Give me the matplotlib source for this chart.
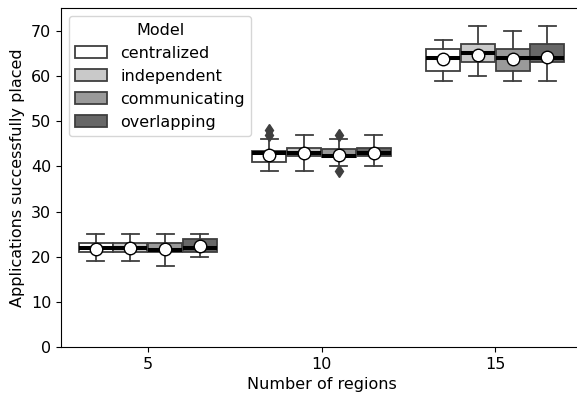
import numpy as np
import matplotlib
matplotlib.use("Agg")
import matplotlib.pyplot as plt
from matplotlib.patches import Patch

# data (one row per model, one column per region count)
regions = ["5", "10", "15"]
models = ["centralized", "independent", "communicating", "overlapping"]
colors = ["#ffffff", "#c9c9c9", "#9a9a9a", "#676767"]

whislo = [[19, 39, 59], [19, 39, 60], [18, 40, 59], [20, 40, 59]]
q1 = [[21, 41, 61.2], [21, 42.2, 63], [21, 42, 61], [21, 42.3, 63]]
med = [[22, 43, 64], [22, 43, 65], [21.5, 42.2, 64], [22, 43, 64]]
q3 = [[23, 43.3, 66], [23, 44, 67], [23, 43.8, 66], [24, 44, 67]]
whishi = [[25, 46, 68], [25, 47, 71], [25, 46, 70], [25, 47, 71]]
means = [[21.7, 42.6, 63.7], [21.9, 42.9, 64.7], [21.8, 42.6, 63.8], [22.3, 43.0, 64.3]]
fliers = [[[], [47, 48], []], [[], [], []], [[], [47, 39], []], [[], [], []]]

plt.rcParams["font.size"] = 11.5

fig = plt.figure(figsize=(5.77, 3.99), dpi=100)
ax = fig.add_axes([0.1057, 0.1303, 0.903, 0.849])

line_col = "#3f3f3f"
lw = 1.3
nm = len(models)
width = 0.8 / nm
for i, m in enumerate(models):
    stats = []
    for j in range(len(regions)):
        stats.append(dict(whislo=whislo[i][j], q1=q1[i][j], med=med[i][j],
                          q3=q3[i][j], whishi=whishi[i][j], mean=means[i][j],
                          fliers=fliers[i][j]))
    pos = np.arange(len(regions)) - 0.4 + width * (i + 0.5)
    ax.bxp(stats, positions=pos, widths=width * 0.98, patch_artist=True,
           showmeans=True, manage_ticks=False,
           boxprops=dict(facecolor=colors[i], edgecolor=line_col, linewidth=lw),
           whiskerprops=dict(color=line_col, linewidth=lw),
           capprops=dict(color=line_col, linewidth=lw),
           medianprops=dict(color="black", linewidth=2.9),
           meanprops=dict(marker="o", markerfacecolor="white",
                          markeredgecolor="black", markersize=9),
           flierprops=dict(marker="d", markerfacecolor=line_col,
                           markeredgecolor=line_col, markersize=6.5))

ax.set_xticks(np.arange(len(regions)))
ax.set_xticklabels(regions)
ax.set_xlim(-0.5, 2.5)
ax.set_ylim(0, 75)
ax.set_xlabel("Number of regions")
ax.set_ylabel("Applications successfully placed")

handles = [Patch(facecolor=c, edgecolor=line_col, linewidth=lw) for c in colors]
ax.legend(handles, models, title="Model", loc="upper left")

fig.savefig("out.png", dpi=100)
